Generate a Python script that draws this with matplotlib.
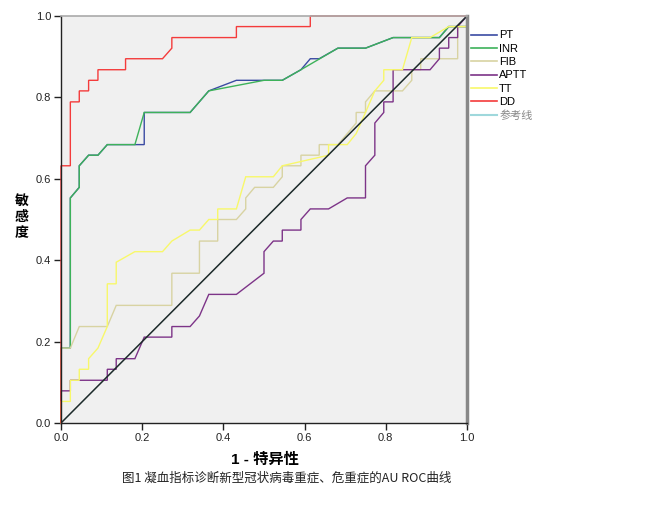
import matplotlib
matplotlib.use("Agg")
import matplotlib.pyplot as plt
from matplotlib.lines import Line2D

plt.rcParams['font.family'] = ['Liberation Sans', 'Noto Sans CJK SC', 'DejaVu Sans']

# ROC curves (1 - specificity, sensitivity)
pt_x = [0, 0, 0.023, 0.023, 0.045, 0.045, 0.068, 0.091, 0.114, 0.182, 0.205, 0.205, 0.318,
        0.364, 0.432, 0.5, 0.545, 0.591, 0.614, 0.636, 0.682, 0.75, 0.818, 0.932, 0.955, 1, 1]
pt_y = [0, 0.184, 0.184, 0.553, 0.579, 0.632, 0.658, 0.658, 0.684, 0.684, 0.684, 0.763, 0.763,
        0.816, 0.842, 0.842, 0.842, 0.868, 0.895, 0.895, 0.921, 0.921, 0.947, 0.947, 0.974, 0.974, 1]

inr_x = [0, 0, 0.023, 0.023, 0.045, 0.045, 0.068, 0.091, 0.114, 0.182, 0.205, 0.318, 0.364,
         0.5, 0.545, 0.591, 0.682, 0.75, 0.818, 0.932, 0.955, 1, 1]
inr_y = [0, 0.184, 0.184, 0.553, 0.579, 0.632, 0.658, 0.658, 0.684, 0.684, 0.763, 0.763, 0.816,
         0.842, 0.842, 0.868, 0.921, 0.921, 0.947, 0.947, 0.974, 0.974, 1]

fib_x = [0, 0, 0.023, 0.045, 0.114, 0.136, 0.273, 0.273, 0.341, 0.341, 0.386, 0.386, 0.432,
         0.455, 0.455, 0.477, 0.523, 0.545, 0.545, 0.591, 0.591, 0.636, 0.636, 0.682, 0.705,
         0.727, 0.727, 0.75, 0.75, 0.773, 0.841, 0.864, 0.864, 0.886, 0.886, 0.977, 0.977, 1, 1]
fib_y = [0, 0.184, 0.184, 0.237, 0.237, 0.289, 0.289, 0.368, 0.368, 0.447, 0.447, 0.5, 0.5,
         0.526, 0.553, 0.579, 0.579, 0.605, 0.632, 0.632, 0.658, 0.658, 0.684, 0.684, 0.711,
         0.737, 0.763, 0.763, 0.789, 0.816, 0.816, 0.842, 0.868, 0.868, 0.895, 0.895, 0.974, 0.974, 1]

aptt_x = [0, 0, 0.023, 0.023, 0.114, 0.114, 0.136, 0.136, 0.182, 0.205, 0.273, 0.273, 0.318,
          0.341, 0.364, 0.432, 0.5, 0.5, 0.523, 0.545, 0.545, 0.591, 0.591, 0.614, 0.659,
          0.705, 0.75, 0.75, 0.773, 0.773, 0.795, 0.795, 0.818, 0.818, 0.909, 0.932, 0.932,
          0.955, 0.955, 0.977, 0.977, 1]
aptt_y = [0, 0.079, 0.079, 0.105, 0.105, 0.132, 0.132, 0.158, 0.158, 0.211, 0.211, 0.237, 0.237,
          0.263, 0.316, 0.316, 0.368, 0.421, 0.447, 0.447, 0.474, 0.474, 0.5, 0.526, 0.526,
          0.553, 0.553, 0.632, 0.658, 0.737, 0.763, 0.789, 0.789, 0.868, 0.868, 0.895, 0.921,
          0.921, 0.947, 0.947, 0.974, 1]

tt_x = [0, 0, 0.023, 0.023, 0.045, 0.045, 0.068, 0.068, 0.091, 0.114, 0.114, 0.136, 0.136,
        0.182, 0.25, 0.273, 0.318, 0.341, 0.364, 0.386, 0.386, 0.432, 0.455, 0.523, 0.545,
        0.659, 0.659, 0.705, 0.727, 0.75, 0.773, 0.795, 0.795, 0.841, 0.864, 0.909, 0.955, 1, 1]
tt_y = [0, 0.053, 0.053, 0.105, 0.105, 0.132, 0.132, 0.158, 0.184, 0.237, 0.342, 0.342, 0.395,
        0.421, 0.421, 0.447, 0.474, 0.474, 0.5, 0.5, 0.526, 0.526, 0.605, 0.605, 0.632,
        0.658, 0.684, 0.684, 0.711, 0.763, 0.816, 0.842, 0.868, 0.868, 0.947, 0.947, 0.974, 0.974, 1]

dd_x = [0, 0, 0.023, 0.023, 0.045, 0.045, 0.068, 0.068, 0.091, 0.091, 0.159, 0.159, 0.25,
        0.273, 0.273, 0.432, 0.432, 0.614, 0.614, 1]
dd_y = [0, 0.632, 0.632, 0.789, 0.789, 0.816, 0.816, 0.842, 0.842, 0.868, 0.868, 0.895, 0.895,
        0.921, 0.947, 0.947, 0.974, 0.974, 1, 1]

names = ['PT', 'INR', 'FIB', 'APTT', 'TT', 'DD']
colors = ['#3b4ba3', '#3db25a', '#d8d3a2', '#7d3488', '#f8f86a', '#f43b3b']
curves = [(pt_x, pt_y), (inr_x, inr_y), (fib_x, fib_y), (aptt_x, aptt_y), (tt_x, tt_y), (dd_x, dd_y)]
ref_color = '#9fd8dc'

fig = plt.figure(figsize=(6.49, 5.26), dpi=100)
ax = fig.add_axes([61 / 649, 1 - 423 / 526, 406 / 649, 407 / 526])
ax.set_facecolor('#f0f0f0')

for (xs, ys), c in zip(curves, colors):
    ax.plot(xs, ys, color=c, lw=1.0, solid_joinstyle='miter', clip_on=False)

# reference diagonal
ax.plot([0, 1], [0, 1], color='#1c2a2a', lw=1.1)

ax.set_xlim(0, 1)
ax.set_ylim(0, 1)
ticks = [0.0, 0.2, 0.4, 0.6, 0.8, 1.0]
ax.set_xticks(ticks)
ax.set_yticks(ticks)
ax.set_xticklabels(['%.1f' % t for t in ticks])
ax.set_yticklabels(['%.1f' % t for t in ticks])
ax.tick_params(direction='out', length=5, width=1, labelsize=8, colors='#222222', pad=2)

for s in ['left', 'bottom']:
    ax.spines[s].set_color('#222222')
    ax.spines[s].set_linewidth(1.0)
ax.spines['top'].set_color('#aaaaaa')
ax.spines['top'].set_linewidth(1.2)
ax.spines['right'].set_color('#888888')
ax.spines['right'].set_linewidth(2.5)

fig.text(265 / 649, 1 - 460 / 526, '1 - 特异性', fontsize=11, fontweight='bold', ha='center', va='center',
         family=['Liberation Sans', 'Noto Sans CJK SC'])
fig.text(22 / 649, 1 - 217 / 526, '敏\n感\n度', fontsize=10, fontweight='bold', ha='center', va='center',
         linespacing=1.15, family=['Noto Sans CJK SC'])

handles = [Line2D([], [], color=c, lw=1.2) for c in colors]
handles.append(Line2D([], [], color=ref_color, lw=1.5))
leg = fig.legend(handles, names + ['参考线'], loc='upper left', bbox_to_anchor=(467 / 649, 1 - 26 / 526),
                 frameon=False, fontsize=8, handlelength=2.3, handletextpad=0.2,
                 labelspacing=0.3, borderaxespad=0)
leg.get_texts()[-1].set_color('#888888')

fig.text(287 / 649, 1 - 478 / 526, '图1 凝血指标诊断新型冠状病毒重症、危重症的AU ROC曲线',
         fontsize=9, ha='center', va='center', color='#222222',
         family=['Noto Sans CJK SC', 'Liberation Sans'])

fig.savefig('out.png', dpi=100)
